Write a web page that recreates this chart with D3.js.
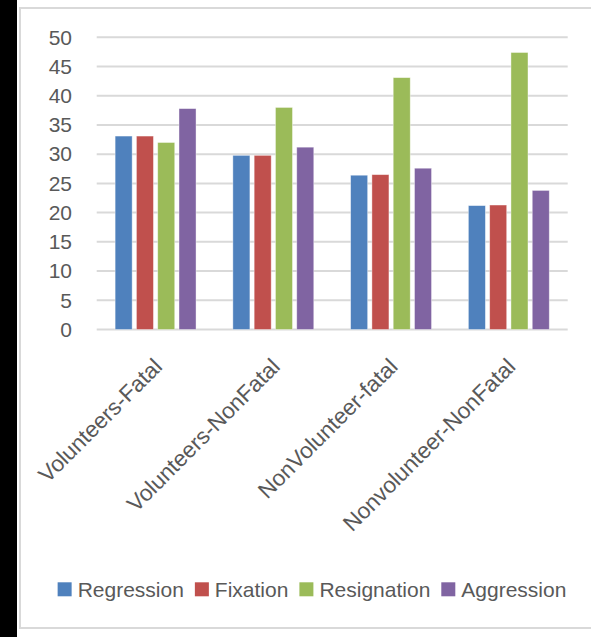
<!DOCTYPE html>
<html>
<head>
<meta charset="utf-8">
<script src="https://cdn.jsdelivr.net/npm/d3@7"></script>
<style>
  html, body { margin: 0; padding: 0; background: #fff; }
  svg { display: block; }
  text { font-family: "Liberation Sans", Arial, sans-serif; fill: #595959; }
</style>
</head>
<body>
<script>
// Coping responses by participant group
const categories = ["Volunteers-Fatal", "Volunteers-NonFatal", "NonVolunteer-fatal", "Nonvolunteer-NonFatal"];
const seriesNames = ["Regression", "Fixation", "Resignation", "Aggression"];
const regression  = [33.1, 29.8, 26.4, 21.2];
const fixation    = [33.1, 29.8, 26.5, 21.3];
const resignation = [32.0, 38.0, 43.1, 47.4];
const aggression  = [37.8, 31.2, 27.6, 23.8];
const yTicks = [0, 5, 10, 15, 20, 25, 30, 35, 40, 45, 50];
const colors = ["#4F81BD", "#C0504D", "#9BBB59", "#8064A2"];

const seriesValues = [regression, fixation, resignation, aggression];

const W = 591, H = 637;
const plot = { left: 96.7, right: 567.7, top: 37.3, bottom: 329.5 };

const svg = d3.select("body").append("svg")
  .attr("width", W).attr("height", H);

// page edge strip and chart frame
svg.append("rect").attr("x", 0).attr("y", 0).attr("width", 17).attr("height", H).attr("fill", "#000");
svg.append("rect")
  .attr("x", 20).attr("y", 8).attr("width", W + 20).attr("height", 620)
  .attr("fill", "#fff").attr("stroke", "#d9d9d9").attr("stroke-width", 2);

const y = d3.scaleLinear().domain([0, 50]).range([plot.bottom, plot.top]);
const x0 = d3.scaleBand().domain(categories).range([plot.left, plot.right]).padding(0);
const x1 = d3.scaleBand().domain(seriesNames).range([0, x0.bandwidth()])
  .paddingInner(0.2).paddingOuter(0.865);

// horizontal gridlines
svg.append("g").selectAll("line").data(yTicks).join("line")
  .attr("x1", plot.left).attr("x2", plot.right)
  .attr("y1", d => y(d)).attr("y2", d => y(d))
  .attr("stroke", "#d9d9d9").attr("stroke-width", 2);

// value axis labels
const yAxis = d3.axisLeft(y).tickValues(yTicks).tickSize(0).tickPadding(0);
const yg = svg.append("g").attr("transform", "translate(72,0)").call(yAxis);
yg.select(".domain").remove();
yg.selectAll("text")
  .attr("font-size", 21).attr("fill", "#595959")
  .style("font-family", "'Liberation Sans', Arial, sans-serif");

// bars
const groups = svg.append("g").selectAll("g").data(categories).join("g")
  .attr("transform", c => `translate(${x0(c)},0)`);
groups.selectAll("rect")
  .data((c, ci) => seriesNames.map((s, si) => ({ s, si, v: seriesValues[si][ci] })))
  .join("rect")
  .attr("x", d => x1(d.s))
  .attr("width", x1.bandwidth())
  .attr("y", d => y(d.v))
  .attr("height", d => y(0) - y(d.v))
  .attr("fill", d => colors[d.si])
  .attr("stroke", "#ffffff").attr("stroke-opacity", 0.5).attr("stroke-width", 0.8);

// rotated category labels
svg.append("g").selectAll("text").data(categories).join("text")
  .attr("transform", c => `translate(${x0(c) + x0.bandwidth() / 2 + 8},${368}) rotate(-45)`)
  .attr("text-anchor", "end")
  .attr("font-size", 22.5)
  .text(c => c);

// legend
const legend = svg.append("g");
let cursor = 0;
seriesNames.forEach((s, i) => {
  const g = legend.append("g").attr("transform", `translate(${cursor},0)`);
  g.append("rect").attr("x", 0).attr("y", -7).attr("width", 14).attr("height", 14).attr("fill", colors[i]);
  const t = g.append("text").attr("x", 20).attr("y", 0).attr("dy", "0.36em")
    .attr("font-size", 21).text(s);
  cursor += 20 + t.node().getComputedTextLength() + 11;
});
const legendWidth = cursor - 11;
legend.attr("transform", `translate(${312 - legendWidth / 2},589.3)`);
</script>
</body>
</html>
